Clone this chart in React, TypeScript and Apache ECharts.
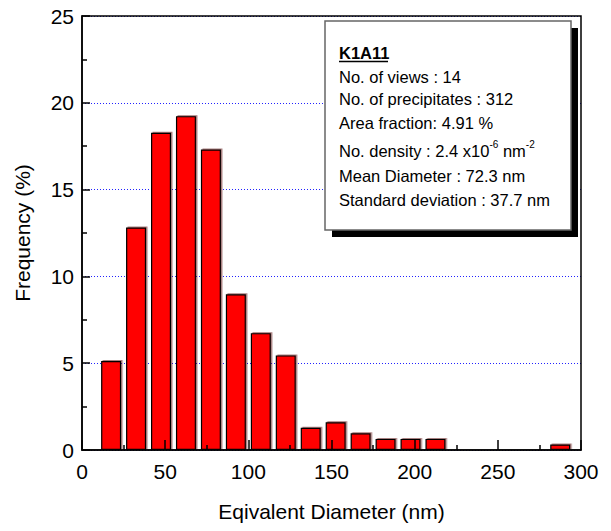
import React, { useEffect, useRef } from "react";
import * as echarts from "echarts";

const binCenters = [17.5, 32.5, 47.5, 62.5, 77.5, 92.5, 107.5, 122.5, 137.5, 152.5, 167.5, 182.5, 197.5, 212.5, 227.5, 242.5, 257.5, 272.5, 287.5];
const frequencies = [5.13, 12.82, 18.27, 19.23, 17.31, 8.97, 6.73, 5.45, 1.28, 1.6, 0.96, 0.64, 0.64, 0.64, 0, 0, 0, 0, 0.32];
const xTicks = { min: 0, max: 300, interval: 50 };
const yTicks = { min: 0, max: 25, interval: 5 };
const xTitle = "Eqivalent Diameter (nm)";
const yTitle = "Frequency (%)";
const infoTitle = "K1A11";
const infoLines = [
  "No. of views : 14",
  "No. of precipitates : 312",
  "Area fraction: 4.91 %",
  "No. density : 2.4 x10{sup|-6} nm{sup|-2}",
  "Mean Diameter : 72.3 nm",
  "Standard deviation : 37.7 nm",
];

const FONT = "'Liberation Sans', Arial, sans-serif";
const GRID = { left: 82, right: 30, top: 16, bottom: 81 };
const W = 611, H = 531;

export default function App() {
  const ref = useRef<HTMLDivElement>(null);
  useEffect(() => {
    if (!ref.current) return;
    const chart = echarts.init(ref.current, null, { renderer: "svg" });
    const data = binCenters
      .map((c, i) => [c, frequencies[i]])
      .filter((d) => d[1] > 0);

    const lineYs = [77, 99, 123, 151, 176, 200];
    const boxX = 325, boxY = 21, boxW = 246, boxH = 209, sh = 7;
    const textX = 339;

    chart.setOption({
      animation: false,
      grid: GRID,
      xAxis: {
        type: "value",
        ...xTicks,
        z: 3,
        axisLine: { show: true, lineStyle: { color: "#000", width: 1.5 } },
        axisTick: { show: true, inside: true, length: 10, lineStyle: { color: "#000", width: 1.5 } },
        minorTick: { show: true, splitNumber: 2, length: 5, lineStyle: { color: "#000", width: 1.5 } },
        splitLine: { show: false },
        axisLabel: { color: "#000", fontSize: 21, fontFamily: FONT, margin: 11 },
        name: xTitle,
        nameLocation: "middle",
        nameGap: 51,
        nameTextStyle: { color: "#000", fontSize: 21, fontFamily: FONT },
      },
      yAxis: {
        type: "value",
        ...yTicks,
        axisLine: { show: true, lineStyle: { color: "#000", width: 1.5 } },
        axisTick: { show: true, inside: true, length: 8, lineStyle: { color: "#000", width: 1.5 } },
        minorTick: { show: true, splitNumber: 2, length: 5, lineStyle: { color: "#000", width: 1.5 } },
        splitLine: { show: true, lineStyle: { color: "#2222ff", type: [1, 2], width: 1 } },
        axisLabel: { color: "#000", fontSize: 21, fontFamily: FONT, margin: 8 },
        name: yTitle,
        nameLocation: "middle",
        nameGap: 49,
        nameTextStyle: { color: "#000", fontSize: 21, fontFamily: FONT },
      },
      series: [
        {
          type: "bar",
          barWidth: 20,
          z: 2,
          data,
          itemStyle: {
            color: "#ff0000",
            borderColor: "#000",
            borderWidth: 1.2,
            shadowColor: "rgba(80,0,0,0.5)",
            shadowOffsetX: 1.5,
            shadowOffsetY: -1,
            shadowBlur: 0,
          },
        },
      ],
      graphic: [
        {
          type: "rect",
          z: 9,
          silent: true,
          shape: { x: GRID.left, y: GRID.top, width: W - GRID.left - GRID.right, height: H - GRID.top - GRID.bottom },
          style: { fill: "none", stroke: "#000", lineWidth: 1.5 },
        },
        {
          type: "rect",
          z: 10,
          shape: { x: boxX + sh, y: boxY + sh, width: boxW, height: boxH },
          style: { fill: "#000" },
        },
        {
          type: "rect",
          z: 11,
          shape: { x: boxX, y: boxY, width: boxW, height: boxH },
          style: { fill: "#fff", stroke: "#666", lineWidth: 1.5 },
        },
        {
          type: "text",
          z: 12,
          x: textX,
          y: 53,
          style: {
            text: infoTitle,
            fontSize: 16.5,
            fontWeight: "bold",
            fontFamily: FONT,
            fill: "#000",
            verticalAlign: "middle",
          },
        },
        {
          type: "line",
          z: 12,
          shape: { x1: textX, y1: 61.5, x2: textX + 49, y2: 61.5 },
          style: { stroke: "#000", lineWidth: 1.3 },
        },
        ...infoLines.map((t, i) => ({
          type: "text",
          z: 12,
          x: textX,
          y: lineYs[i],
          style: {
            text: t,
            fontSize: 16.5,
            fontFamily: FONT,
            fill: "#000",
            verticalAlign: "middle",
            rich: {
              sup: { fontSize: 10, fontFamily: FONT, fill: "#000", verticalAlign: "top", lineHeight: 24 },
            },
          },
        })),
      ],
    });
    return () => chart.dispose();
  }, []);
  return (
    <div
      ref={ref}
      style={{ position: "fixed", left: 0, top: 0, width: W, height: H, background: "#fff" }}
    />
  );
}
